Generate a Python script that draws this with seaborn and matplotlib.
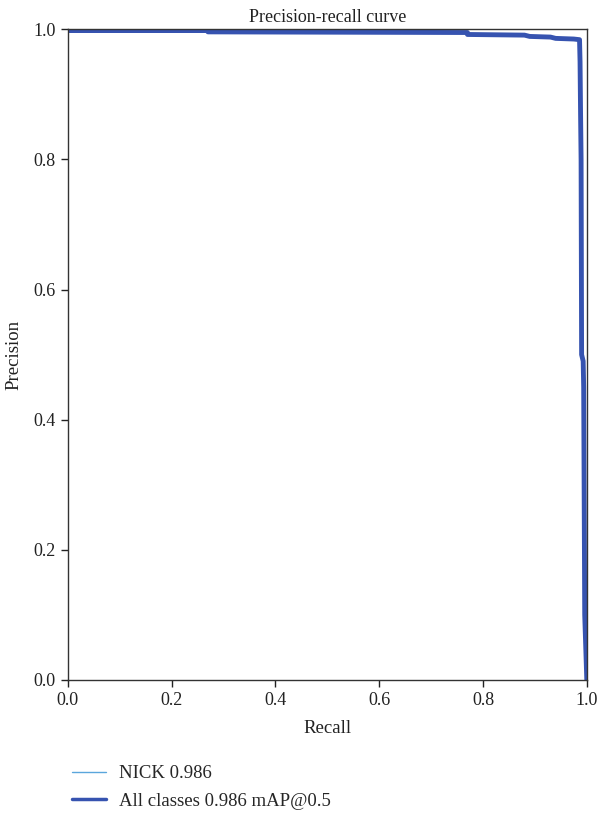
import numpy as np
import pandas as pd
import matplotlib
matplotlib.use("Agg")
import matplotlib.pyplot as plt
import seaborn as sns

# PR curve (step-like)
recall = [0.0, 0.27, 0.27, 0.77, 0.77, 0.88, 0.89, 0.93, 0.94, 0.975,
          0.986, 0.987, 0.988, 0.989, 0.990, 0.993, 0.994, 0.996, 1.0]
precision = [0.998, 0.998, 0.996, 0.995, 0.992, 0.991, 0.989, 0.988, 0.986, 0.985,
             0.984, 0.95, 0.87, 0.80, 0.50, 0.49, 0.45, 0.10, 0.0]
class_label = "NICK 0.986"
all_label = "All classes 0.986 mAP@0.5"

sns.set_theme(style="ticks")
plt.rcParams["font.family"] = ["Liberation Serif", "DejaVu Serif"]

df = pd.DataFrame({"recall": recall, "precision": precision})

fig = plt.figure(figsize=(6, 8.13), dpi=100)
ax = fig.add_axes([0.113, 0.1636, 0.865, 0.8004])

sns.lineplot(data=df, x="recall", y="precision", sort=False, estimator=None,
             ax=ax, color="#5aa6dc", linewidth=1, label=class_label)
sns.lineplot(data=df, x="recall", y="precision", sort=False, estimator=None,
             ax=ax, color="#3653b0", linewidth=3.5, label=all_label)

ax.set_xlim(0, 1)
ax.set_ylim(0, 1)
ax.set_xticks(np.arange(0, 1.01, 0.2))
ax.set_yticks(np.arange(0, 1.01, 0.2))
ax.xaxis.set_major_formatter(matplotlib.ticker.FormatStrFormatter("%.1f"))
ax.yaxis.set_major_formatter(matplotlib.ticker.FormatStrFormatter("%.1f"))
ax.tick_params(labelsize=13, colors="#222222", length=5, width=1)
for s in ax.spines.values():
    s.set_color("#333333")
    s.set_linewidth(1)

ax.set_xlabel("Recall", fontsize=13.5, color="#222222", labelpad=8)
ax.set_ylabel("Precision", fontsize=13.5, color="#222222", labelpad=8)
ax.set_title("Precision-recall curve", fontsize=13, color="#222222", pad=5)

leg = ax.legend(loc="upper left", bbox_to_anchor=(0.108, 0.068), bbox_transform=fig.transFigure,
                frameon=False, fontsize=13.5, handlelength=1.8, handletextpad=0.7,
                labelspacing=0.55, borderaxespad=0)
leg.get_lines()[1].set_linewidth(2.5)

fig.savefig("out.png", dpi=100)
